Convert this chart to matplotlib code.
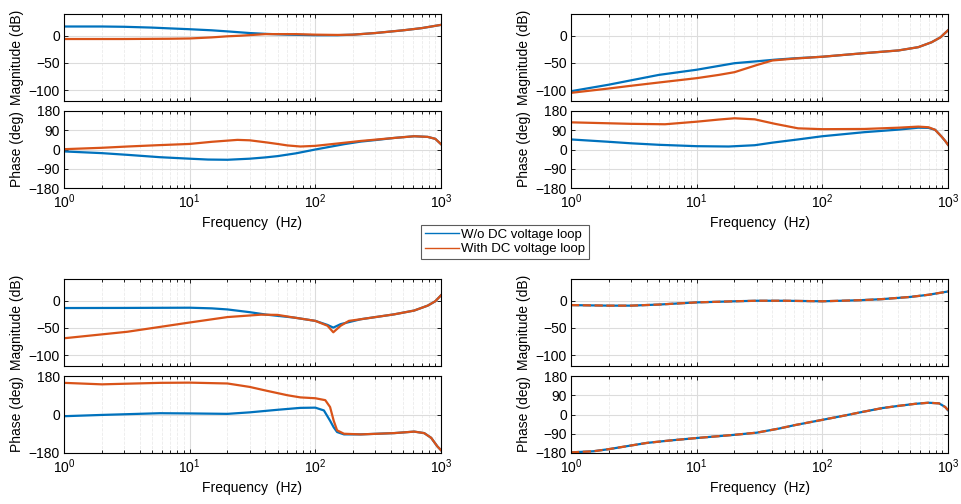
import numpy as np
import matplotlib.pyplot as plt
from matplotlib.ticker import LogLocator, NullFormatter

plt.rcParams['font.family'] = ['Liberation Sans', 'DejaVu Sans']
plt.rcParams['mathtext.fontset'] = 'custom'
plt.rcParams['mathtext.rm'] = 'Liberation Sans'
plt.rcParams['font.size'] = 10

BLUE = '#0072BD'
ORANGE = '#D95319'

# ---- data (frequency in Hz) ----
# panel 1 (top left)
f1_mag_wo = [1, 2, 3, 5, 7, 10, 15, 20, 30, 40, 60, 100, 150, 200, 300, 500, 700, 1000]
m1_wo = [17, 17, 16.5, 15, 13.5, 12, 10, 8, 5, 3.5, 2, 1, 1, 2, 5, 10, 14, 20]
f1_mag_w = [1, 3, 7, 10, 15, 20, 25, 40, 70, 100, 150, 200, 300, 500, 700, 1000]
m1_w = [-6, -6, -5.5, -5, -3, -1, 0, 3, 3, 2, 1.5, 2, 5, 10, 14, 20]
f1_ph_wo = [1, 2, 3.2, 5.8, 10, 14, 20, 30, 40, 50, 70, 100, 170, 230, 300, 424, 612, 783, 900, 1000]
p1_wo = [-9, -17, -25, -36, -43, -47, -48, -43, -37, -31, -18, 0, 25, 37, 44, 54, 62, 59, 50, 25]
f1_ph_w = [1, 2, 3.2, 5.5, 10, 15, 24, 30, 41, 50, 60, 76, 100, 150, 230, 300, 424, 612, 783, 900, 1000]
p1_w = [1.5, 8, 14, 20, 26, 36, 45, 43, 33, 26, 19, 14, 17, 28, 40, 46, 54, 62, 59, 50, 25]

# panel 2 (top right)
f2_mag_wo = [1, 2, 3, 5, 10, 20, 30, 42, 60, 100, 216, 404, 580, 740, 870, 1000]
m2_wo = [-102, -90, -82, -72, -62.5, -50.5, -47, -44, -41.5, -38.6, -32, -27, -21, -12, -3, 10]
f2_mag_w = [1, 2, 3, 5, 10, 15, 20, 30, 40, 60, 100, 216, 404, 580, 740, 870, 1000]
m2_w = [-105, -97, -92, -86, -78, -72, -67, -54, -45.5, -42, -38.6, -32, -27, -21, -12, -3, 10]
f2_ph_wo = [1, 2, 3, 5, 10, 18, 29, 40, 64, 100, 216, 404, 580, 700, 790, 890, 950, 1000]
p2_wo = [47, 36, 29, 22, 15.5, 14, 20, 32, 47, 62, 81, 93, 102, 101, 92, 60, 40, 22]
f2_ph_w = [1, 3, 5.6, 10, 15, 20, 29, 42, 64, 100, 216, 404, 580, 700, 790, 890, 950, 1000]
p2_w = [127, 120, 118, 130, 140, 146, 141, 120, 99, 95, 96, 102, 107, 104, 92, 60, 40, 22]

# panel 3 (bottom left)
f3_mag_wo = [1, 3, 10, 15, 20, 30, 41, 68, 100, 125, 139, 159, 230, 424, 612, 783, 900, 1000]
m3_wo = [-13.4, -13.2, -12.8, -14, -16, -21, -25.6, -31, -37, -44.5, -49.4, -43, -34, -25, -18, -9, -1, 10]
f3_mag_w = [1, 3.2, 10, 20, 37, 50, 68, 100, 125, 139, 159, 185, 230, 424, 612, 783, 900, 1000]
m3_w = [-69, -57, -40, -30, -25.6, -26, -31, -37, -46, -58, -46, -37, -34, -25, -18, -9, -1, 10]
f3_ph_wo = [1, 2, 5.8, 10, 20, 30, 50, 76, 100, 117, 131, 140, 149, 169, 230, 424, 612, 735, 835, 935, 1000]
p3_wo = [-8, -2, 6, 5, 3, 10, 22, 31, 32, 19, -29, -60, -82, -93, -93, -87, -80, -87, -109, -149, -167]
f3_ph_w = [1, 2, 5.8, 10, 20, 30, 41, 60, 76, 100, 120, 131, 140, 149, 169, 230, 424, 612, 735, 835, 935, 1000]
p3_w = [148, 141, 148, 149, 145, 129, 111, 90, 80, 76, 67, 35, -29, -74, -90, -93, -87, -80, -87, -109, -149, -167]

# panel 4 (bottom right), both curves coincide
f4_mag = [1, 2, 3, 5, 10, 20, 30, 50, 100, 200, 300, 500, 700, 1000]
m4_wo = [-8, -9, -9, -7, -3, -1, 0, 0, -1, 1, 3, 7, 11, 17]
m4_w = m4_wo
f4_ph = [1, 1.5, 2, 3, 4, 6, 10, 20, 30, 45, 60, 100, 150, 200, 300, 400, 550, 700, 850, 950, 1000]
p4_wo = [-177, -172, -162, -145, -133, -122, -110, -95, -85, -66, -50, -25, -5, 10, 30, 40, 50, 55, 52, 35, 20]
p4_w = p4_wo

panels = [
    (f1_mag_wo, m1_wo, f1_mag_w, m1_w, f1_ph_wo, p1_wo, f1_ph_w, p1_w, '-'),
    (f2_mag_wo, m2_wo, f2_mag_w, m2_w, f2_ph_wo, p2_wo, f2_ph_w, p2_w, '-'),
    (f3_mag_wo, m3_wo, f3_mag_w, m3_w, f3_ph_wo, p3_wo, f3_ph_w, p3_w, '-'),
    (f4_mag, m4_wo, f4_mag, m4_w, f4_ph, p4_wo, f4_ph, p4_w, '--'),
]

W, H = 961, 504
fig = plt.figure(figsize=(W / 100, H / 100), dpi=100)

lefts = [64, 571, 64, 571]
mag_tops = [14, 14, 279, 279]


def style(ax):
    ax.set_xscale('log')
    ax.set_xlim(1, 1000)
    ax.xaxis.set_major_locator(LogLocator(base=10))
    ax.xaxis.set_minor_locator(LogLocator(base=10, subs=np.arange(2, 10)))
    ax.xaxis.set_minor_formatter(NullFormatter())
    ax.tick_params(which='both', direction='in', top=True, right=True,
                   length=3, width=0.6, labelsize=10, pad=3)
    ax.tick_params(which='minor', length=2)
    ax.grid(True, which='major', color='#dcdcdc', lw=0.8)
    ax.grid(True, which='minor', axis='x', color='#ebebeb', lw=0.6, ls='--')
    for s in ax.spines.values():
        s.set_linewidth(0.8)
    ax.set_axisbelow(True)


lines = []
for i, p in enumerate(panels):
    fmw, mw, fmv, mv, fpw, pw, fpv, pv, ls2 = p
    l = lefts[i] / W
    w = 377 / W
    top = mag_tops[i]
    axm = fig.add_axes([l, 1 - (top + 87) / H, w, 87 / H])
    axp = fig.add_axes([l, 1 - (top + 174) / H, w, 77 / H])
    for ax in (axm, axp):
        style(ax)
    a, = axm.plot(fmw, mw, color=BLUE, lw=1.6)
    b, = axm.plot(fmv, mv, color=ORANGE, lw=1.6, ls=ls2)
    axp.plot(fpw, pw, color=BLUE, lw=1.6)
    axp.plot(fpv, pv, color=ORANGE, lw=1.6, ls=ls2)
    if i == 0:
        lines = [a, b]
    axm.set_ylim(-120, 40)
    axm.set_yticks([-100, -50, 0])
    axm.tick_params(labelbottom=False)
    axp.set_ylim(-180, 180)
    if i == 2:
        axp.set_yticks([-180, 0, 180])
    else:
        axp.set_yticks([-180, -90, 0, 90, 180])
    axp.set_xlabel('Frequency  (Hz)', labelpad=4)
    axm.set_ylabel('Magnitude (dB)')
    axp.set_ylabel('Phase (deg)')
    axm.yaxis.set_label_coords(-0.106, 0.5)
    axp.yaxis.set_label_coords(-0.106, 0.5)

leg = fig.legend(lines, ['W/o DC voltage loop', 'With DC voltage loop'],
                 loc='center', bbox_to_anchor=(505 / W, 1 - 242 / H),
                 fontsize=9.5, frameon=True, fancybox=False, handlelength=2.6,
                 handletextpad=0.2, borderpad=0.3, labelspacing=0.15,
                 borderaxespad=0)
leg.get_frame().set_edgecolor('#333333')
leg.get_frame().set_linewidth(0.8)
for lh in leg.get_lines():
    lh.set_linewidth(1.0)

fig.savefig('out.png', dpi=100)
